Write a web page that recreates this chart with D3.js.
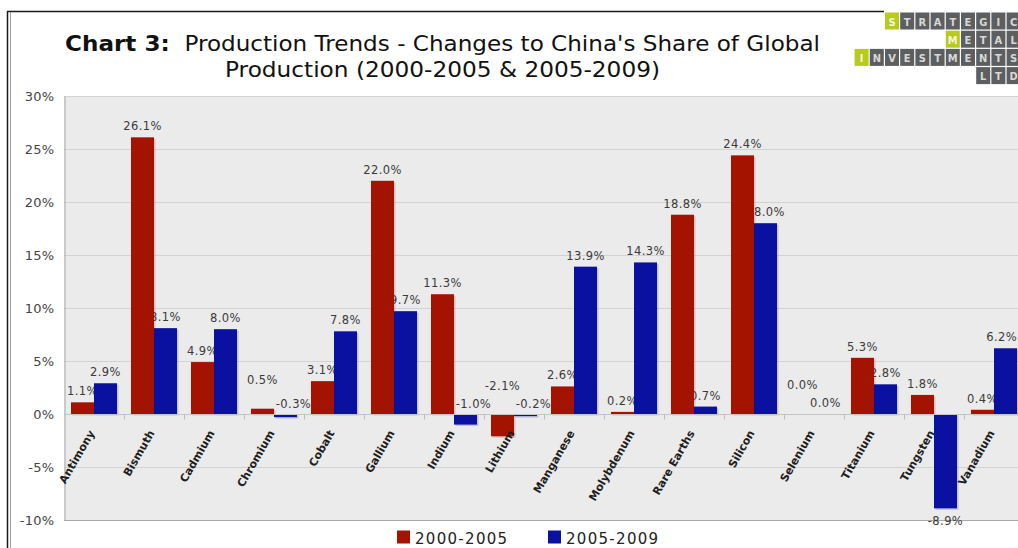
<!DOCTYPE html>
<html>
<head>
<meta charset="utf-8">
<script src="https://cdn.jsdelivr.net/npm/d3@7"></script>
<style>
  html, body { margin: 0; padding: 0; background: #ffffff; }
  svg { display: block; }
</style>
</head>
<body>
<svg id="chart" width="1018" height="548"></svg>
<script>
// Metals shown along the x axis
const categories = ["Antimony", "Bismuth", "Cadmium", "Chromium", "Cobalt", "Gallium", "Indium", "Lithium",
  "Manganese", "Molybdenum", "Rare Earths", "Silicon", "Selenium", "Titanium", "Tungsten", "Vanadium"];

// Change in China's share of global production, percentage points
const change2000to2005 = [1.1, 26.1, 4.9, 0.5, 3.1, 22.0, 11.3, -2.1, 2.6, 0.2, 18.8, 24.4, 0.0, 5.3, 1.8, 0.4];
const change2005to2009 = [2.9, 8.1, 8.0, -0.3, 7.8, 9.7, -1.0, -0.2, 13.9, 14.3, 0.7, 18.0, 0.0, 2.8, -8.9, 6.2];

const seriesNames = ["2000-2005", "2005-2009"];
const seriesColors = ["#a31300", "#0a10a0"];
const yTicks = [-10, -5, 0, 5, 10, 15, 20, 25, 30];

const series = [change2000to2005, change2005to2009];

const svg = d3.select("#chart");
const W = 1018, H = 548;
const sans = "'DejaVu Sans', Verdana, sans-serif";

// Plot frame
const plot = { left: 64, top: 96, bottom: 520, step: 60 };
const x = d3.scaleBand().domain(categories)
  .range([plot.left, plot.left + plot.step * categories.length]);
const xInner = d3.scaleBand().domain([0, 1]).range([7, x.bandwidth() - 7]);
const y = d3.scaleLinear().domain([-10, 30]).range([plot.bottom, plot.top]);

// Page frame lines
svg.append("line").attr("x1", 7).attr("x2", 884).attr("y1", 11.5).attr("y2", 11.5)
  .attr("stroke", "#1a1a1a").attr("stroke-width", 1.5);
svg.append("line").attr("x1", 7.5).attr("x2", 7.5).attr("y1", 11).attr("y2", H)
  .attr("stroke", "#1a1a1a").attr("stroke-width", 1.5);
svg.append("line").attr("x1", 10.5).attr("x2", 10.5).attr("y1", 12).attr("y2", H)
  .attr("stroke", "#9a9a9a").attr("stroke-width", 1);

// Title, two lines
const title = svg.append("text")
  .attr("x", 65).attr("y", 51)
  .attr("font-family", sans).attr("font-size", 20.5).attr("fill", "#111")
  .attr("textLength", 755).attr("lengthAdjust", "spacingAndGlyphs");
title.append("tspan").attr("font-weight", "bold").text("Chart 3:");
title.append("tspan").attr("xml:space", "preserve").text("  Production Trends - Changes to China's Share of Global");
svg.append("text")
  .attr("x", 225).attr("y", 77)
  .attr("font-family", sans).attr("font-size", 20.5).attr("fill", "#111")
  .attr("textLength", 435).attr("lengthAdjust", "spacingAndGlyphs")
  .text("Production (2000-2005 & 2005-2009)");

// Company badge, top right
const badgeRows = [
  { word: "STRATEGIC", col: 0, row: 0, accent: true },
  { word: "METAL", col: 4, row: 1, accent: true },
  { word: "INVESTMENTS", col: -2, row: 2, accent: true },
  { word: "LTD", col: 6, row: 3, accent: false }
];
const badge = svg.append("g");
badgeRows.forEach(r => {
  r.word.split("").forEach((ch, i) => {
    const bx = 885 + (r.col + i) * 15.2;
    const by = 12.5 + r.row * 18.2;
    const green = r.accent && i === 0;
    badge.append("rect").attr("x", bx).attr("y", by).attr("width", 14).attr("height", 17)
      .attr("fill", green ? "#b7ca1d" : "#5d5e60");
    badge.append("text").attr("x", bx + 7).attr("y", by + 13)
      .attr("text-anchor", "middle")
      .attr("font-family", "'DejaVu Sans Condensed', 'Liberation Sans Narrow', sans-serif")
      .attr("font-weight", "bold").attr("font-size", 11)
      .attr("fill", green ? "#f4f7d8" : "#d8d8d8").text(ch);
  });
});

// Plot background and grid
const plotRight = x.range()[1];
svg.append("rect").attr("x", plot.left).attr("y", plot.top)
  .attr("width", plotRight - plot.left).attr("height", plot.bottom - plot.top)
  .attr("fill", "#ebebeb");
svg.append("g").selectAll("line").data(yTicks).join("line")
  .attr("x1", plot.left).attr("x2", plotRight)
  .attr("y1", d => Math.round(y(d)) + 0.5).attr("y2", d => Math.round(y(d)) + 0.5)
  .attr("stroke", d => d === -10 ? "#a8a8a8" : "#d2d2d2").attr("stroke-width", 1);

// Y axis
const yAxis = d3.axisLeft(y).tickValues(yTicks).tickSize(0).tickPadding(10)
  .tickFormat(d => d + "%");
const yg = svg.append("g").attr("transform", `translate(${plot.left + 0.5},0)`).call(yAxis);
yg.select(".domain").attr("stroke", "#a8a8a8");
yg.selectAll("text").attr("font-family", sans)
  .attr("font-size", 13).attr("letter-spacing", 0.3).attr("fill", "#444");

// Value labels, placed before the bars so the bars sit over them
const labelLayer = svg.append("g");
const barLayer = svg.append("g");
const fmt = v => d3.format(".1f")(v).replace("\u2212", "-") + "%";
const placed = [];
function overlaps(b) {
  return placed.some(p => b.x0 < p.x1 + 2 && b.x1 > p.x0 - 2 && b.y0 < p.y1 && b.y1 > p.y0);
}
categories.forEach((cat, ci) => {
  [1, 0].forEach(si => {
    const v = series[si][ci];
    const cx = x(cat) + xInner(si) + xInner.bandwidth() / 2;
    let lx = cx, ly;
    if (v >= 0) ly = y(v) - 7;
    else if (v <= -5) ly = y(v) + 17;
    else { ly = y(0) - 6; lx = cx + 8; }
    const t = labelLayer.append("text")
      .attr("text-anchor", "middle")
      .attr("font-family", sans)
      .attr("font-size", 11.5).attr("fill", "#3a3a3a")
      .attr("letter-spacing", 0.4)
      .text(fmt(v));
    const w = t.node().getComputedTextLength();
    const box = () => ({ x0: lx - w / 2, x1: lx + w / 2, y0: ly - 10, y1: ly + 1 });
    let guard = 0;
    while (overlaps(box()) && guard++ < 5) { ly -= 18; lx = cx; }
    // keep labels inside the page
    lx = Math.min(lx, W - 1 - w / 2);
    placed.push(box());
    t.attr("x", lx).attr("y", ly);
  });
});

// Bars
series.forEach((vals, si) => {
  const g = barLayer.append("g");
  g.selectAll("rect.shadow").data(vals).join("rect")
    .attr("class", "shadow")
    .attr("x", (d, i) => x(categories[i]) + xInner(si) + 1.5)
    .attr("y", d => Math.min(y(d), y(0)) + 1.5)
    .attr("width", xInner.bandwidth())
    .attr("height", d => Math.abs(y(d) - y(0)))
    .attr("fill", seriesColors[si]).attr("opacity", 0.18);
  g.selectAll("rect.bar").data(vals).join("rect")
    .attr("class", "bar")
    .attr("x", (d, i) => x(categories[i]) + xInner(si))
    .attr("y", d => Math.min(y(d), y(0)))
    .attr("width", xInner.bandwidth())
    .attr("height", d => Math.abs(y(d) - y(0)))
    .attr("fill", seriesColors[si]);
});

// Zero line with category ticks at band boundaries
const y0 = Math.round(y(0)) + 0.5;
svg.append("line").attr("x1", plot.left).attr("x2", plotRight).attr("y1", y0).attr("y2", y0)
  .attr("stroke", "#c4c4c4");
svg.append("g").selectAll("line").data(categories.slice(1)).join("line")
  .attr("x1", d => x(d) + 0.5).attr("x2", d => x(d) + 0.5)
  .attr("y1", y0).attr("y2", y0 + 5).attr("stroke", "#bdbdbd");

// Category labels, hung from the zero line
svg.append("g").selectAll("text").data(categories).join("text")
  .attr("transform", d => `translate(${x(d) + x.bandwidth() / 2 + 1},${y(0) + 19}) rotate(-60)`)
  .attr("text-anchor", "end")
  .attr("font-family", sans)
  .attr("font-weight", "bold").attr("font-size", 11).attr("fill", "#1e1e1e")
  .text(d => d);

// Legend
const legendX = [397, 548];
const legend = svg.append("g");
seriesNames.forEach((name, i) => {
  legend.append("rect").attr("x", legendX[i]).attr("y", 530.5).attr("width", 13).attr("height", 13)
    .attr("fill", seriesColors[i]);
  legend.append("text").attr("x", legendX[i] + 18).attr("y", 543.5)
    .attr("font-family", sans)
    .attr("font-size", 15).attr("letter-spacing", 1.3).attr("fill", "#222")
    .text(name);
});
</script>
</body>
</html>
